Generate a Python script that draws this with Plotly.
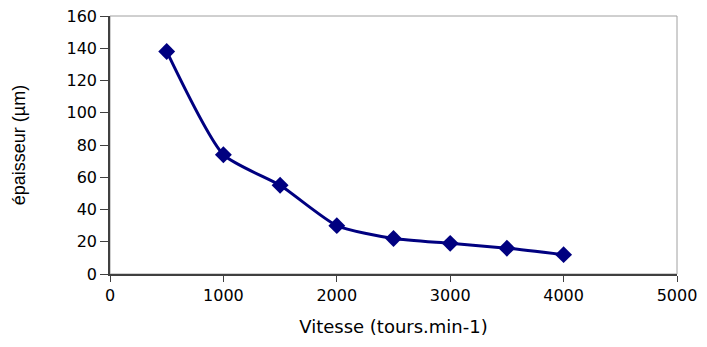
import plotly.graph_objects as go

vitesse = [500, 1000, 1500, 2000, 2500, 3000, 3500, 4000]
epaisseur = [138, 74, 55, 30, 22, 19, 16, 12]

x_ticks = [0, 1000, 2000, 3000, 4000, 5000]
y_ticks = [0, 20, 40, 60, 80, 100, 120, 140, 160]

fig = go.Figure()
fig.add_trace(go.Scatter(
    x=vitesse, y=epaisseur, mode="lines+markers",
    line=dict(color="#000080", width=3, shape="spline", smoothing=0.6),
    marker=dict(symbol="diamond", size=13, color="#000080"),
    showlegend=False,
))

fam = "DejaVu Sans, Arial, sans-serif"
font = dict(family=fam, size=16, color="black")
fig.update_layout(
    width=707, height=347,
    margin=dict(l=110, r=30, t=16, b=73),
    paper_bgcolor="white", plot_bgcolor="white",
    font=font,
    shapes=[dict(type="rect", xref="paper", yref="paper", x0=0, y0=0, x1=1, y1=1,
                 line=dict(color="#a0a0a0", width=1), layer="below")],
)
fig.update_xaxes(
    range=[0, 5000], tickvals=x_ticks, ticktext=[str(v) for v in x_ticks],
    showgrid=False, zeroline=False, showline=True, linecolor="#404040", linewidth=1.5,
    ticks="outside", ticklen=6, tickcolor="#404040", tickfont=font,
    title=dict(text="Vitesse (tours.min-1)", font=dict(family=fam, size=18, color="black"), standoff=16),
    automargin=False,
)
fig.update_yaxes(
    range=[0, 160], tickvals=y_ticks, ticktext=[str(v) for v in y_ticks],
    showgrid=False, zeroline=False, showline=True, linecolor="#404040", linewidth=1.5,
    ticks="outside", ticklen=8, tickcolor="#404040", tickfont=font,
    title=dict(text="épaisseur (µm)", font=dict(family="Liberation Sans, Arial, sans-serif", size=18, color="black"), standoff=36),
    automargin=False,
)
fig.write_html("out.html", config={"displayModeBar": False},
               post_script="document.body.style.margin='0';")
